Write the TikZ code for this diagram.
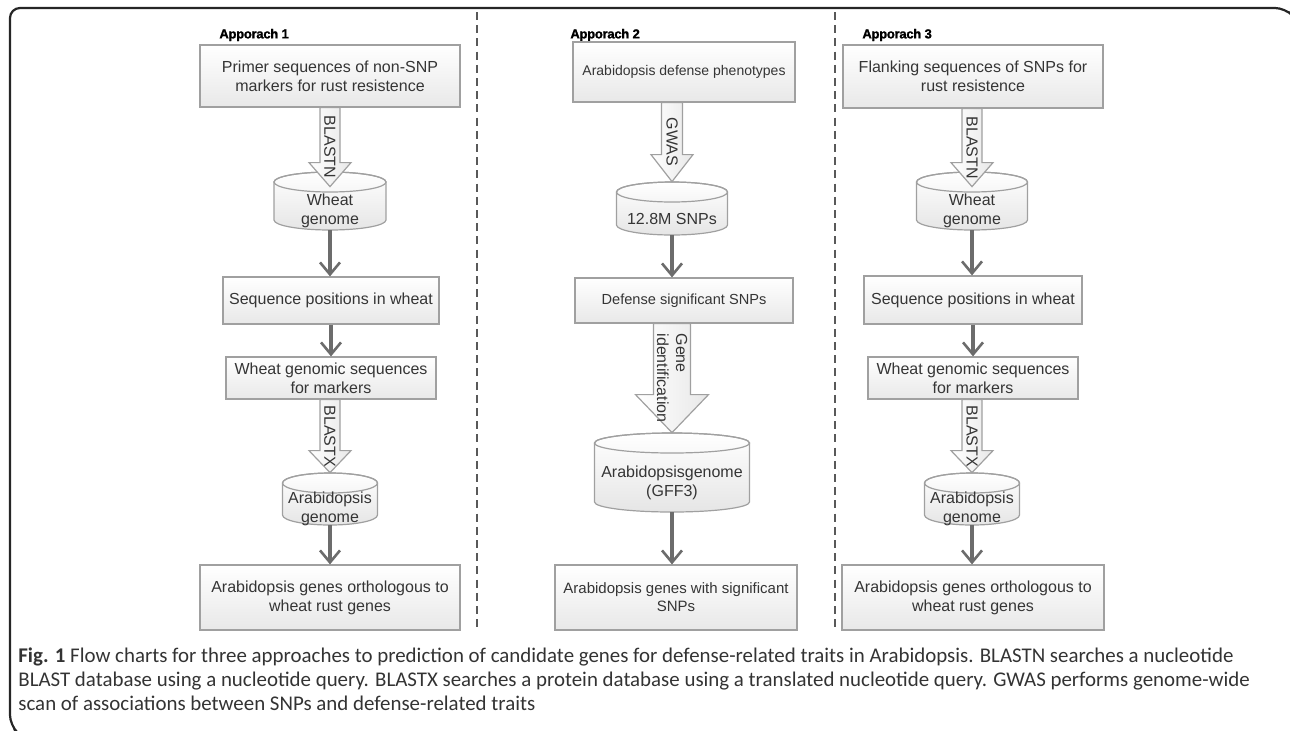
\documentclass[tikz,border=0pt]{standalone}
\usepackage{fontspec}
\setmainfont{Liberation Sans}
\newfontfamily\capfont{Carlito}
\newfontfamily\ttlfont[BoldFeatures={FakeBold=1.4,LetterSpace=-2}]{Liberation Sans}
\usetikzlibrary{calc,arrows.meta}

\definecolor{boxline}{HTML}{A0A0A0}
\definecolor{flowgray}{HTML}{6C6C6C}
\definecolor{txtgray}{HTML}{353535}

\tikzset{
  stepbox/.style={draw=boxline, line width=0.6pt, top color=white, bottom color=black!9,
    text=txtgray, font=\fontsize{8}{9.5}\selectfont, align=center, inner sep=0pt},
  dbtext/.style={text=txtgray, font=\fontsize{8}{9.5}\selectfont, align=center, inner sep=0pt},
  cylshade/.style={draw=boxline, line width=0.6pt, top color=white, bottom color=black!10},
  thinflow/.style={draw=flowgray, line width=1.6pt, -{Straight Barb[length=6pt,width=10pt,line width=1.3pt]}},
  fatflow/.style={draw=boxline, line width=0.6pt, left color=white, right color=black!9},
  flowlabel/.style={rotate=-90, text=txtgray, font=\fontsize{8}{9.5}\selectfont, align=left, inner sep=0pt},
  apptitle/.style={font=\ttlfont\fontsize{6.5}{7}\selectfont\bfseries, text=black, anchor=west, inner sep=0pt},
  colsep/.style={draw=black!65, line width=0.9pt, dash pattern=on 4pt off 2.6pt}
}

% database cylinder: name, x, top y, width, height, text (all in px, y downwards)
\newcommand\dbcyl[6]{%
  \path[cylshade] (#2-#4/2,-#3-10) -- (#2-#4/2,-#3-#5+10)
    arc[start angle=180,end angle=360,x radius=#4*0.25pt,y radius=5pt]
    -- (#2+#4/2,-#3-10)
    arc[start angle=0,end angle=180,x radius=#4*0.25pt,y radius=5pt] -- cycle;
  \draw[boxline, line width=0.6pt] (#2,-#3-10) ellipse[x radius=#4*0.25pt,y radius=5pt];
  \node[inner sep=0pt, minimum width=#4*0.5pt, minimum height=#5*0.5pt] (#1) at (#2,-#3-#5/2) {};
  \node[dbtext] (#1-txt) at (#2,-#3-#5/2-10) {#6};
}

% block arrow: from, to, shaft half width, head half width, head length, overlap, name, label
\newcommand\fatarrow[8]{%
  \coordinate (#7-s) at (#2.north |- #1.south);
  \coordinate (#7-t) at ($(#2.north)+(0,-#6)$);
  \path[fatflow] ($(#7-s)+(-#3,0)$) -- ($(#7-t)+(-#3,#5)$) -- ($(#7-t)+(-#4,#5)$) -- (#7-t)
    -- ($(#7-t)+(#4,#5)$) -- ($(#7-t)+(#3,#5)$) -- ($(#7-s)+(#3,0)$) -- cycle;
  \node[flowlabel] (#7) at ($(#7-s)!0.5!(#7-t)$) {#8};
}

\begin{document}
\begin{tikzpicture}[x=0.5pt, y=0.5pt]
  \useasboundingbox (0,0) rectangle (1290,-730);

  % frame
  \draw[black!85, line width=1.1pt, rounded corners=5pt] (14,-729) -- (10,-725) -- (10,-8) -- (1285,-8) -- (1289,-12);

  % separators
  \draw[colsep] (477,-12) -- (477,-632);
  \draw[colsep] (835,-12) -- (835,-632);

  % approach 1
  \node[apptitle] (t1) at (219,-35) {Apporach 1};
  \node[stepbox, minimum width=130pt, minimum height=31pt] (b11) at (330,-76) {Primer sequences of non-SNP\\markers for rust resistence};
  \dbcyl{c11}{330}{172}{112}{58}{Wheat\\genome}
  \node[stepbox, minimum width=108pt, minimum height=23.5pt] (b12) at (331,-300.5) {Sequence positions in wheat};
  \node[stepbox, minimum width=105pt, minimum height=21pt] (b13) at (331,-378) {Wheat genomic sequences\\for markers};
  \dbcyl{c12}{330}{473}{95}{52}{Arabidopsis\\genome}
  \node[stepbox, minimum width=130pt, minimum height=32.5pt] (b14) at (330,-597.5) {Arabidopsis genes orthologous to\\wheat rust genes};

  \fatarrow{b11}{c11}{10}{21}{24}{15}{a11}{BLASTN}
  \draw[thinflow] (c11.south) -- (c11.south |- b12.north);
  \draw[thinflow] (b12.south) -- (b12.south |- b13.north);
  \fatarrow{b13}{c12}{10}{21}{22}{0}{a12}{BLASTX}
  \draw[thinflow] (c12.south) -- (c12.south |- b14.north);

  % approach 2
  \node[apptitle] (t2) at (570,-35) {Apporach 2};
  \node[stepbox, minimum width=111pt, minimum height=30pt, font=\fontsize{7}{8.5}\selectfont] (b21) at (684,-72) {Arabidopsis defense phenotypes};
  \dbcyl{c21}{672}{182}{111}{53}{12.8M SNPs}
  \node[stepbox, minimum width=109pt, minimum height=22.5pt, font=\fontsize{7.3}{8.8}\selectfont] (b22) at (684,-300.5) {Defense significant SNPs};
  \dbcyl{c22}{672}{433}{155}{79}{Arabidopsisgenome\\(GFF3)}
  \node[stepbox, minimum width=121pt, minimum height=32.5pt, font=\fontsize{7.5}{9}\selectfont] (b23) at (676,-597.5) {Arabidopsis genes with significant\\SNPs};

  \fatarrow{b21}{c21}{10.5}{21}{27}{0}{a21}{GWAS}
  \draw[thinflow] (c21.south) -- (c21.south |- b22.north);
  \fatarrow{b22}{c22}{18.5}{36.5}{38}{0}{a22}{Gene\\identification}
  \draw[thinflow] (c22.south) -- (c22.south |- b23.north);

  % approach 3
  \node[apptitle] (t3) at (862,-35) {Apporach 3};
  \node[stepbox, minimum width=130pt, minimum height=31.5pt] (b31) at (973,-76.5) {Flanking sequences of SNPs for\\rust resistence};
  \dbcyl{c31}{972}{172}{111}{58}{Wheat\\genome}
  \node[stepbox, minimum width=109pt, minimum height=24pt] (b32) at (973,-300) {Sequence positions in wheat};
  \node[stepbox, minimum width=105pt, minimum height=21pt] (b33) at (973,-378) {Wheat genomic sequences\\for markers};
  \dbcyl{c32}{972}{473}{95}{52}{Arabidopsis\\genome}
  \node[stepbox, minimum width=131pt, minimum height=32.5pt] (b34) at (973,-597.5) {Arabidopsis genes orthologous to\\wheat rust genes};

  \fatarrow{b31}{c31}{10}{21}{24}{15}{a31}{BLASTN}
  \draw[thinflow] (c31.south) -- (c31.south |- b32.north);
  \draw[thinflow] (b32.south) -- (b32.south |- b33.north);
  \fatarrow{b33}{c32}{10}{21}{22}{0}{a32}{BLASTX}
  \draw[thinflow] (c32.south) -- (c32.south |- b34.north);

  % caption
  \node[anchor=north west, align=left, inner sep=0pt, text=black!80,
        font=\capfont\fontsize{10.45}{12}\selectfont] (cap) at (18,-647)
    {\textbf{Fig. 1} Flow charts for three approaches to prediction of candidate genes for defense-related traits in Arabidopsis. BLASTN searches a nucleotide\\
     BLAST database using a nucleotide query. BLASTX searches a protein database using a translated nucleotide query. GWAS performs genome-wide\\
     scan of associations between SNPs and defense-related traits};
\end{tikzpicture}
\end{document}
